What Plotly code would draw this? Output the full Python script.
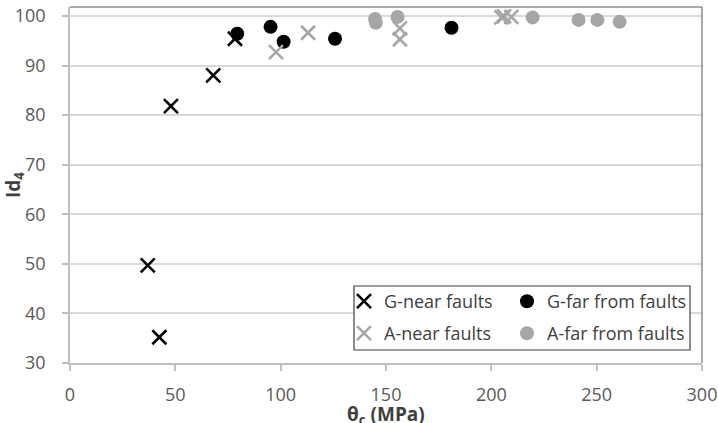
import plotly.graph_objects as go

# G-near faults (black crosses)
g_near_x = [36.9, 42.4, 47.9, 68.0, 78.3]
g_near_y = [49.7, 35.2, 81.8, 88.0, 95.4]

# G-far from faults (black circles)
g_far_x = [79.4, 95.2, 101.4, 125.8, 181.1]
g_far_y = [96.4, 97.8, 94.8, 95.4, 97.6]

# A-near faults (grey crosses)
a_near_x = [97.8, 113.0, 156.6, 156.6, 204.8, 206.0, 209.5]
a_near_y = [92.7, 96.6, 97.5, 95.3, 99.7, 99.9, 99.8]

# A-far from faults (grey circles)
a_far_x = [144.8, 145.2, 155.5, 219.6, 241.4, 250.3, 260.9]
a_far_y = [99.4, 98.6, 99.8, 99.7, 99.2, 99.2, 98.8]

x_ticks = [0, 50, 100, 150, 200, 250, 300]
y_ticks = [30, 40, 50, 60, 70, 80, 90, 100]

BLACK = "#000000"
GREY = "#a6a6a6"
FONT = "Open Sans"

fig = go.Figure()
fig.add_trace(go.Scatter(
    x=g_near_x, y=g_near_y, mode="markers", name="G-near faults",
    marker=dict(symbol="x-thin", size=14, line=dict(color=BLACK, width=2.6)),
    legend="legend"))
fig.add_trace(go.Scatter(
    x=g_far_x, y=g_far_y, mode="markers", name="G-far from faults",
    marker=dict(symbol="circle", size=14, color=BLACK),
    legend="legend2"))
fig.add_trace(go.Scatter(
    x=a_near_x, y=a_near_y, mode="markers", name="A-near faults",
    marker=dict(symbol="x-thin", size=14, line=dict(color=GREY, width=2.6)),
    legend="legend3"))
fig.add_trace(go.Scatter(
    x=a_far_x, y=a_far_y, mode="markers", name="A-far from faults",
    marker=dict(symbol="circle", size=14, color=GREY),
    legend="legend4"))

leg_common = dict(
    orientation="v", xanchor="left", yanchor="middle",
    bgcolor="rgba(0,0,0,0)", borderwidth=0,
    font=dict(family=FONT, size=18, color="#404040"),
    itemwidth=30,
)
col1 = (344 - 70) / 632
col2 = (507 - 70) / 632
row1 = (363 - 301.5) / 356
row2 = (363 - 333.5) / 356

fig.update_layout(
    width=718, height=423,
    margin=dict(l=70, r=16, t=7, b=60, autoexpand=False),
    paper_bgcolor="white", plot_bgcolor="white",
    showlegend=True,
    legend=dict(x=col1, y=row1, **leg_common),
    legend2=dict(x=col2, y=row1, **leg_common),
    legend3=dict(x=col1, y=row2, **leg_common),
    legend4=dict(x=col2, y=row2, **leg_common),
    xaxis=dict(
        range=[0, 300], tickvals=x_ticks, showgrid=False, zeroline=False,
        automargin=False,
        showline=True, linecolor="#bfbfbf", linewidth=1.5,
        ticks="outside", ticklen=6, tickcolor="#bfbfbf", tickwidth=1.5,
        tickfont=dict(family=FONT, size=18, color="#595959"),
        ticklabelstandoff=9,
    ),
    yaxis=dict(
        range=[30, 101.8], tickvals=y_ticks, showgrid=True,
        gridcolor="#d9d9d9", gridwidth=1.5, zeroline=False,
        automargin=False,
        showline=True, linecolor="#bfbfbf", linewidth=1.5,
        ticks="outside", ticklen=6, tickcolor="#bfbfbf", tickwidth=1.5,
        tickfont=dict(family=FONT, size=18, color="#595959"),
        ticklabelstandoff=13,
        title=dict(text="<b>Id<sub>4</sub></b>",
                   font=dict(family=FONT, size=19, color="#404040"),
                   standoff=4),
    ),
    annotations=[
        dict(text="<b>θ<sub>c</sub> (MPa)</b>", xref="paper", yref="paper",
             x=0.5, y=(363 - 415) / 356, xanchor="center", yanchor="middle",
             showarrow=False,
             font=dict(family=FONT, size=19, color="#404040")),
    ],
    shapes=[
        # top and right borders of the plot area
        dict(type="line", xref="paper", yref="paper", x0=0, x1=1, y0=1, y1=1,
             line=dict(color="#8c8c8c", width=1.5)),
        dict(type="line", xref="paper", yref="paper", x0=1, x1=1, y0=0, y1=1,
             line=dict(color="#8c8c8c", width=1.5)),
        # legend box
        dict(type="rect", xref="paper", yref="paper",
             x0=(354 - 70) / 632, x1=(690 - 70) / 632,
             y0=(363 - 350) / 356, y1=(363 - 286) / 356,
             fillcolor="white", line=dict(color="#404040", width=1.2),
             layer="above"),
    ],
)

fig.write_html("out.html")
